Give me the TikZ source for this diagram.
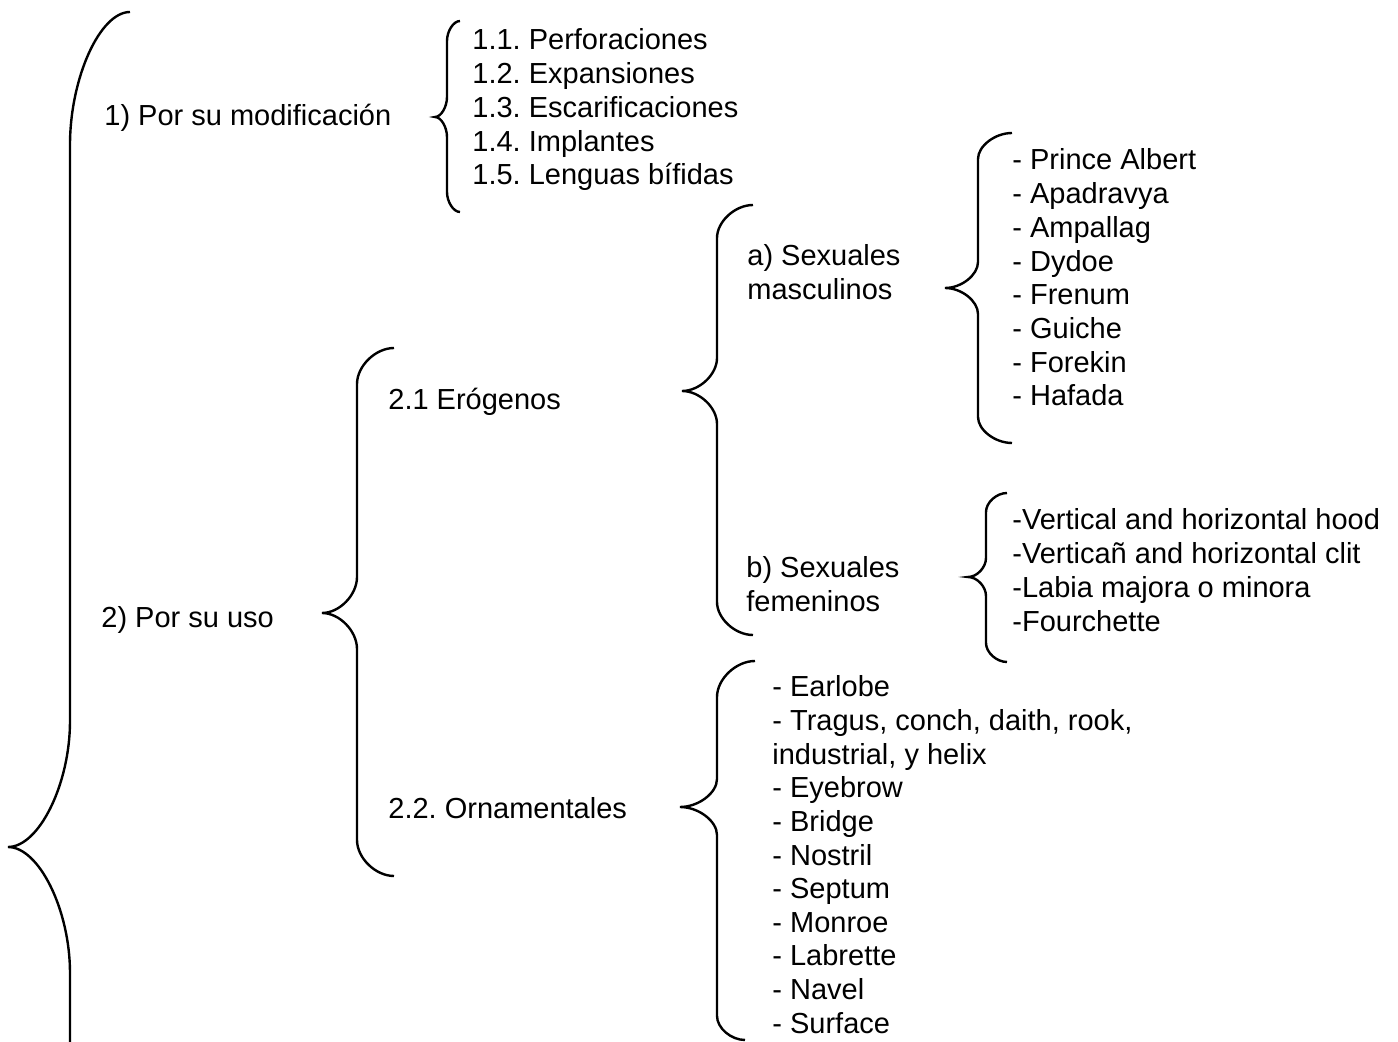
\documentclass[tikz,border=0pt]{standalone}
\usepackage{fontspec}
\setmainfont{Liberation Sans}
\frenchspacing

\begin{document}
\begin{tikzpicture}[x=0.5pt,y=-0.5pt,
    texto/.style={anchor=base west,inner sep=0pt,font=\fontsize{14.5pt}{17pt}\selectfont},
    llave/.style={line width=1.2pt}]
    \useasboundingbox (0,0) rectangle (1398,1042);

    % primer nivel
    \node[texto] (modif) at (104,126) {1) Por su modificación};
    \node[texto] (uso) at (101,628) {2) Por su uso};

    % segundo nivel
    \foreach \t [count=\n] in {Perforaciones,Expansiones,Escarificaciones,Implantes,Lenguas bífidas}
             {
               \node[texto] (perf\n) at (472,{16.3+33.7*\n}) {1.\n. \t};
             }
    \node[texto] (erog) at (388,410) {2.1 Erógenos};
    \node[texto] (orna) at (388,818) {2.2. Ornamentales};

    % tercer nivel
    \node[texto] (masc) at (747,266) {a) Sexuales};
    \node[texto] (masc-b) at (747,300) {masculinos};
    \node[texto] (fem) at (746,578) {b) Sexuales};
    \node[texto] (fem-b) at (746,612) {femeninos};

    \foreach \t [count=\n] in {Prince Albert,Apadravya,Ampallag,Dydoe,Frenum,Guiche,Forekin,Hafada}
             {
               \node[texto] (masc\n) at (1012,{136.3+33.7*\n}) {- \t};
             }
    \foreach \t [count=\n] in {Vertical and horizontal hood,Verticañ and horizontal clit,
                               Labia majora o minora,Fourchette}
             {
               \node[texto] (fem\n) at (1012,{496.3+33.7*\n}) {-\t};
             }
    \foreach \t [count=\n] in {- Earlobe,{- Tragus, conch, daith, rook,},{industrial, y helix},
                               - Eyebrow,- Bridge,- Nostril,- Septum,- Monroe,- Labrette,- Navel,- Surface}
             {
               \node[texto] (orn\n) at (772,{663.4+33.6*\n}) {\t};
             }

    % llaves
    \draw[llave] (130,12) .. controls (100,12) and (70,78) .. (70,145)
             -- (70,721) .. controls (70,784) and (39,847) .. (8,847)
             .. controls (39,847) and (70,910) .. (70,973) -- (70,1050);
    \draw[llave] (460,21) .. controls (453.5,21) and (447,31) .. (447,41)
             -- (447,97) .. controls (447,107) and (441,117) .. (435,117)
             .. controls (441,117) and (447,127) .. (447,137)
             -- (447,192) .. controls (447,202) and (453.5,212) .. (460,212);
    \draw[llave] (394,348) .. controls (375.5,348) and (357,366) .. (357,384)
             -- (357,577) .. controls (357,595) and (339.5,613) .. (322,613)
             .. controls (339.5,613) and (357,631) .. (357,649)
             -- (357,840) .. controls (357,858) and (375.5,876) .. (394,876);
    \draw[llave] (753,205) .. controls (735,205) and (717,221.5) .. (717,238)
             -- (717,358) .. controls (717,374.5) and (699.5,391) .. (682,391)
             .. controls (699.5,391) and (717,407.5) .. (717,424)
             -- (717,602) .. controls (717,618.5) and (735,635) .. (753,635);
    \draw[llave] (1012,133) .. controls (995,133) and (978,146) .. (978,159)
             -- (978,262) .. controls (978,275) and (961.5,288) .. (945,288)
             .. controls (961.5,288) and (978,301) .. (978,314)
             -- (978,417) .. controls (978,430) and (995,443) .. (1012,443);
    \draw[llave] (1007,493) .. controls (996.5,493) and (986,502.5) .. (986,512)
             -- (986,558) .. controls (986,567.5) and (977,577) .. (968,577)
             .. controls (977,577) and (986,586.5) .. (986,596)
             -- (986,643) .. controls (986,652.5) and (996.5,662) .. (1007,662);
    \draw[llave] (755,661) .. controls (736,661) and (717,679) .. (717,697)
             -- (717,779) .. controls (717,793) and (698.5,807) .. (680,807)
             .. controls (698.5,807) and (717,821) .. (717,835)
             -- (717,1016) .. controls (717,1028) and (731,1040) .. (745,1040);

\end{tikzpicture}
\end{document}
